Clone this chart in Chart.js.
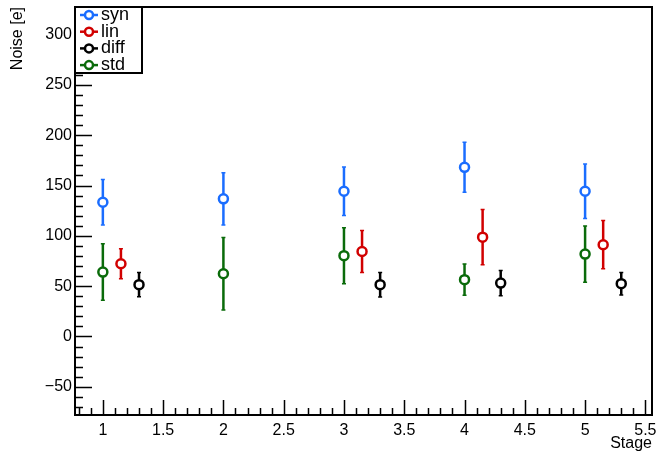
<!DOCTYPE html>
<html>
<head>
<meta charset="utf-8">
<script src="https://cdn.jsdelivr.net/npm/chart.js@4"></script>
<style>
  body { margin: 0; background: #fff; }
  #c { display: block; }
</style>
</head>
<body>
<canvas id="c" width="659" height="454"></canvas>
<script>
// values (symmetric errors)
const synX = [1, 2, 3, 4, 5];
const synY = [133.4, 136.8, 144.3, 168.1, 144.3];
const synErr = [22.5, 26, 24, 24.8, 27];

const linX = [1.15, 3.15, 4.15, 5.15];
const linY = [72.3, 84.5, 98.7, 91.2];
const linErr = [14.8, 20.8, 27.4, 24];

const diffX = [1.3, 3.3, 4.3, 5.3];
const diffY = [51.5, 51.5, 53.1, 52.5];
const diffErr = [12.1, 12.2, 12.6, 11.2];

const stdX = [1, 2, 3, 4, 5];
const stdY = [64, 62.4, 80.3, 56.5, 81.9];
const stdErr = [28.1, 36, 27.8, 15.6, 28];

const seriesNames = ['syn', 'lin', 'diff', 'std'];
const seriesColors = ['#1a6dff', '#d10000', '#000000', '#0a6b0a'];

const xRange = [0.769, 5.555];
const yRange = [-78, 327.4];

const FONT = '"Liberation Sans", Arial, sans-serif';

function makeSet(i, xs, ys, errs) {
    return {
        label: seriesNames[i],
        data: xs.map((x, k) => ({ x: x, y: ys[k], err: errs[k] })),
        borderColor: seriesColors[i],
        backgroundColor: '#ffffff',
        pointRadius: 4.5,
        pointBorderWidth: 2.5,
        pointHoverRadius: 4.5,
        showLine: false
    };
}

// error bars, drawn before the markers
const errorBars = {
    id: 'errorBars',
    beforeDatasetsDraw(chart) {
        const ctx = chart.ctx;
        const xs = chart.scales.x, ys = chart.scales.y;
        ctx.save();
        chart.data.datasets.forEach(ds => {
            ctx.strokeStyle = ds.borderColor;
            ds.data.forEach(p => {
                const px = xs.getPixelForValue(p.x);
                const top = ys.getPixelForValue(p.y + p.err);
                const bot = ys.getPixelForValue(p.y - p.err);
                ctx.lineWidth = 2.5;
                ctx.beginPath();
                ctx.moveTo(px, top);
                ctx.lineTo(px, bot);
                ctx.stroke();
                ctx.lineWidth = 1.5;
                ctx.beginPath();
                ctx.moveTo(px - 2, top); ctx.lineTo(px + 2, top);
                ctx.moveTo(px - 2, bot); ctx.lineTo(px + 2, bot);
                ctx.stroke();
            });
        });
        ctx.restore();
    }
};

// ROOT-style frame, inward ticks, legend box
const frame = {
    id: 'frame',
    afterDraw(chart) {
        const ctx = chart.ctx;
        const a = chart.chartArea;
        const xs = chart.scales.x, ys = chart.scales.y;
        ctx.save();
        ctx.strokeStyle = '#000';
        ctx.lineWidth = 1.5;
        ctx.beginPath();
        for (let k = -7; k <= 32; k++) {
            const py = Math.round(ys.getPixelForValue(k * 10)) + 0.5;
            const len = k % 5 === 0 ? 17 : 8;
            ctx.moveTo(a.left, py);
            ctx.lineTo(a.left + len, py);
        }
        for (let k = 8; k <= 55; k++) {
            const px = Math.round(xs.getPixelForValue(k / 10)) + 0.5;
            const len = k % 5 === 0 ? 15 : 7;
            ctx.moveTo(px, a.bottom);
            ctx.lineTo(px, a.bottom - len);
        }
        ctx.stroke();

        ctx.lineWidth = 2;
        ctx.strokeRect(a.left, a.top, a.right - a.left, a.bottom - a.top);

        // legend
        const lx = a.left, ly = a.top, lw = 67, lh = 66;
        ctx.fillStyle = '#fff';
        ctx.fillRect(lx, ly, lw, lh);
        ctx.strokeRect(lx, ly, lw, lh);
        ctx.font = '18px ' + FONT;
        ctx.textBaseline = 'middle';
        chart.data.datasets.forEach((ds, i) => {
            const cy = ly + 8 + i * 16.7;
            ctx.strokeStyle = ds.borderColor;
            ctx.lineWidth = 2.5;
            ctx.beginPath();
            ctx.moveTo(lx + 5, cy); ctx.lineTo(lx + 23, cy);
            ctx.stroke();
            ctx.fillStyle = '#fff';
            ctx.beginPath();
            ctx.arc(lx + 14, cy, 4, 0, Math.PI * 2);
            ctx.fill();
            ctx.stroke();
            ctx.fillStyle = '#000';
            ctx.fillText(ds.label, lx + 26, cy);
        });
        ctx.restore();
    }
};

new Chart(document.getElementById('c'), {
    type: 'scatter',
    data: {
        datasets: [
            makeSet(0, synX, synY, synErr),
            makeSet(1, linX, linY, linErr),
            makeSet(2, diffX, diffY, diffErr),
            makeSet(3, stdX, stdY, stdErr)
        ]
    },
    options: {
        responsive: false,
        animation: false,
        layout: { padding: { top: 6, right: 3, left: 0, bottom: 0 } },
        plugins: { legend: { display: false }, tooltip: { enabled: false } },
        scales: {
            x: {
                type: 'linear',
                min: xRange[0], max: xRange[1],
                grid: { display: false, drawTicks: false },
                border: { display: false },
                ticks: {
                    stepSize: 0.5, includeBounds: false, padding: 6, maxRotation: 0,
                    color: '#000', font: { family: FONT, size: 16 },
                    callback: v => String(v)
                },
                title: {
                    display: true, text: 'Stage', align: 'end', color: '#000',
                    font: { family: FONT, size: 16 }, padding: { top: 0, bottom: 1 }
                },
                afterFit(s) { s.height = 39; s.paddingLeft = 0; s.paddingRight = 0; }
            },
            y: {
                type: 'linear',
                min: yRange[0], max: yRange[1],
                grid: { display: false, drawTicks: false },
                border: { display: false },
                ticks: {
                    stepSize: 50, includeBounds: false, padding: 3,
                    color: '#000', font: { family: FONT, size: 16 },
                    callback: v => String(v).replace('-', '\u2212')
                },
                title: {
                    display: true, text: 'Noise [e]', align: 'end', color: '#000',
                    font: { family: FONT, size: 16 }, padding: { top: 8, bottom: 0 }
                },
                afterFit(s) { s.width = 75; s.paddingTop = 0; s.paddingBottom = 0; }
            }
        }
    },
    plugins: [errorBars, frame]
});
</script>
</body>
</html>
